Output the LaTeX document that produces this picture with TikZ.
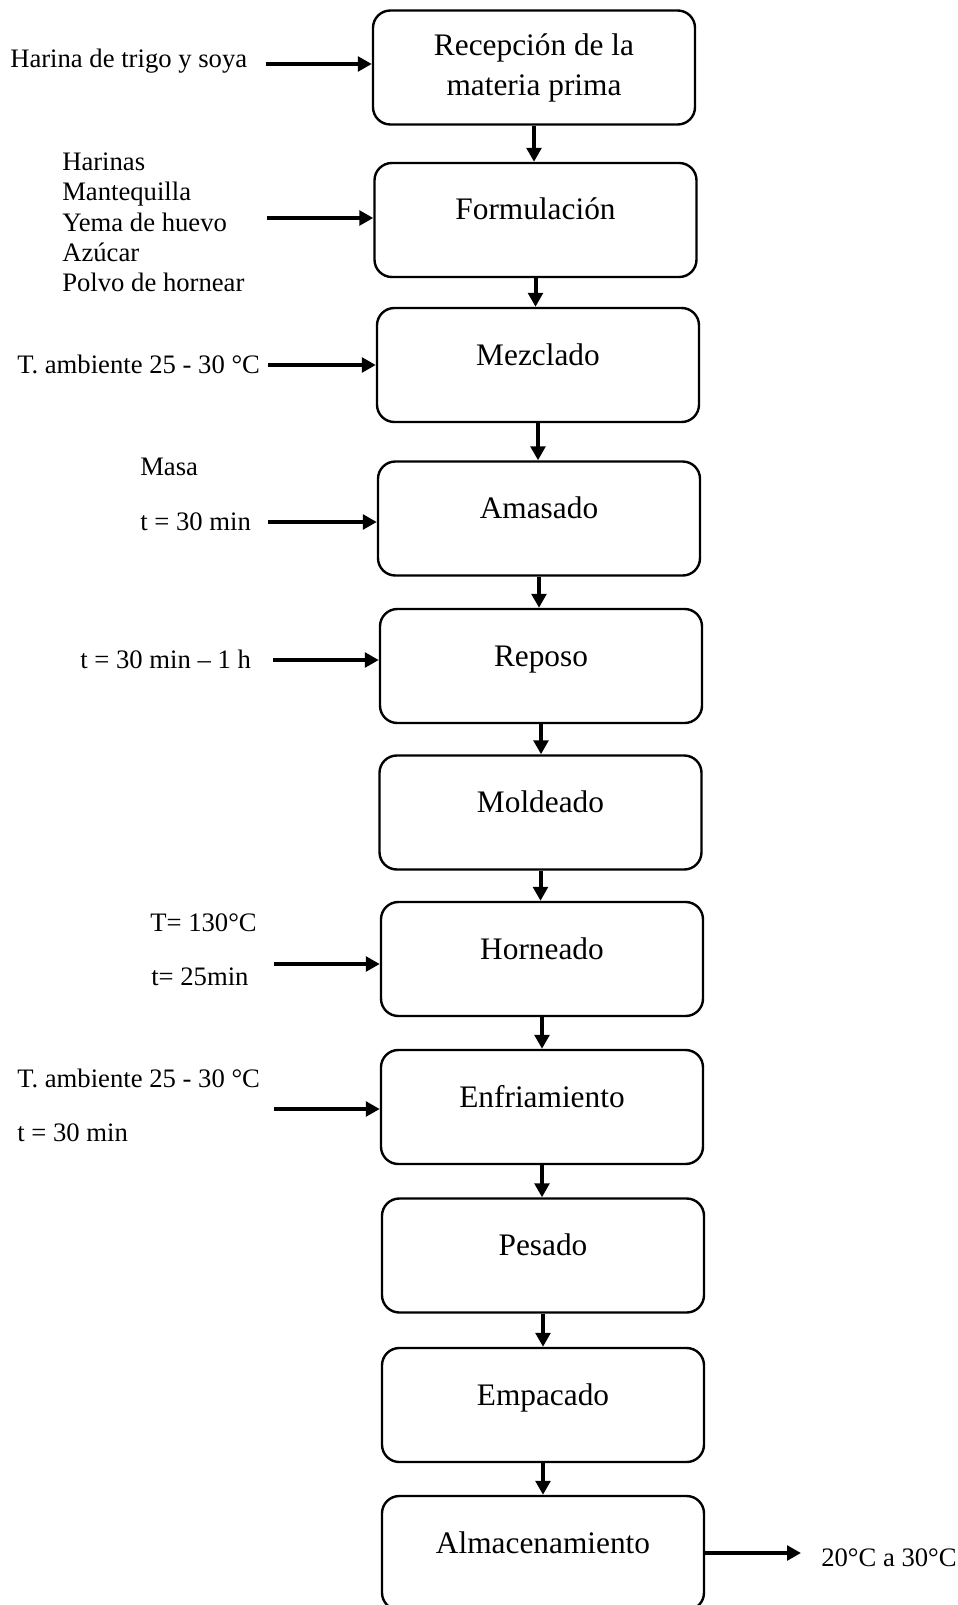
\documentclass[tikz,border=0pt]{standalone}
\usepackage{fontspec}
\setmainfont{Liberation Serif}
\usetikzlibrary{arrows.meta}

\tikzset{
  proceso/.style={draw, line width=1.8pt, rounded corners=13pt,
    minimum width=241.5pt, minimum height=85.5pt, align=center,
    font=\fontsize{23.5}{30}\selectfont, text height=16.5pt, text depth=16.5pt},
  entrada/.style={anchor=west, inner sep=0pt, font=\fontsize{20}{22.7}\selectfont,
    text height=16pt, text depth=4pt},
  flecha/.style={line width=3pt, -{Triangle[length=10.5pt,width=11pt]}}
}

\begin{document}
\begin{tikzpicture}[x=0.75pt, y=-0.75pt]
  \useasboundingbox (0,0) rectangle (957,1605);

  % etapas del proceso
  \node[proceso, text height=, text depth=] (b1) at (534,67.5) {Recepción de la\\materia prima};
  \node[proceso] (b2) at (535.5,220) {Formulación};
  \node[proceso] (b3) at (538,365) {Mezclado};
  \node[proceso] (b4) at (539,518.5) {Amasado};
  \node[proceso] (b5) at (541,666) {Reposo};
  \node[proceso] (b6) at (540.5,812.5) {Moldeado};
  \node[proceso] (b7) at (542,959) {Horneado};
  \node[proceso] (b8) at (542,1107) {Enfriamiento};
  \node[proceso] (b9) at (543,1255.5) {Pesado};
  \node[proceso] (b10) at (543,1405) {Empacado};
  \node[proceso] (b11) at (543,1553) {Almacenamiento};

  \foreach \a/\b in {b1/b2, b2/b3, b3/b4, b4/b5, b5/b6, b6/b7, b7/b8, b8/b9, b9/b10, b10/b11}
    \draw[flecha] (\a.south) -- (\a.south |- \b.north);

  % entradas
  \node[entrada] (l1) at (10,60) {Harina de trigo y soya};
  \node[entrada, align=left, text height=, text depth=] (l2) at (62,222.5)
    {Harinas\\Mantequilla\\Yema de huevo\\Azúcar\\Polvo de hornear};
  \node[entrada] (l3) at (17,365) {T. ambiente 25 - 30 °C};
  \node[entrada] (l4a) at (140,467) {Masa};
  \node[entrada] (l4b) at (140,522) {t = 30 min};
  \node[entrada] (l5) at (80,660) {t = 30 min – 1 h};
  \node[entrada] (l7a) at (150,923) {T= 130°C};
  \node[entrada] (l7b) at (151,977) {t= 25min};
  \node[entrada] (l8a) at (17,1079) {T. ambiente 25 - 30 °C};
  \node[entrada] (l8b) at (17,1133) {t = 30 min};
  \node[entrada] (l11) at (821,1558) {20°C a 30°C};

  \coordinate (e1) at (266,64);
  \coordinate (e2) at (267,218);
  \coordinate (e3) at (268,365);
  \coordinate (e4) at (268,522);
  \coordinate (e5) at (273,660);
  \coordinate (e7) at (274,964);
  \coordinate (e8) at (274,1109);
  \coordinate (fin) at (801,1553);

  \draw[flecha] (e1) -- (e1 -| b1.west);
  \draw[flecha] (e2) -- (e2 -| b2.west);
  \draw[flecha] (e3) -- (e3 -| b3.west);
  \draw[flecha] (e4) -- (e4 -| b4.west);
  \draw[flecha] (e5) -- (e5 -| b5.west);
  \draw[flecha] (e7) -- (e7 -| b7.west);
  \draw[flecha] (e8) -- (e8 -| b8.west);
  \draw[flecha] (b11.east) -- (fin);
\end{tikzpicture}
\end{document}
